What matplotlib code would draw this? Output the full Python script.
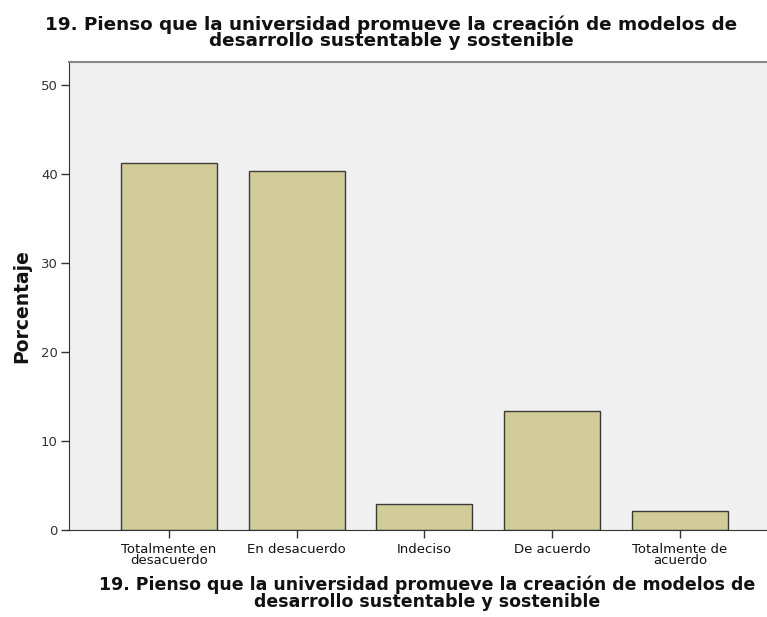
import matplotlib.pyplot as plt
import numpy as np

categorias = ['Totalmente en\ndesacuerdo', 'En desacuerdo', 'Indeciso',
              'De acuerdo', 'Totalmente de\nacuerdo']
porcentajes = [41.2, 40.4, 2.9, 13.4, 2.1]
titulo = '19. Pienso que la universidad promueve la creación de modelos de\ndesarrollo sustentable y sostenible'

plt.rcParams['font.family'] = ['DejaVu Sans']

fig = plt.figure(figsize=(7.67, 6.17), dpi=100)
ax = fig.add_axes([0.09, 0.141, 0.91, 0.7585])
ax.set_facecolor('#f0f0f0')

x = np.arange(len(categorias))
ax.bar(x, porcentajes, width=0.75, color='#d2cd98', edgecolor='#3a3a3a', linewidth=1.0, zorder=2)

ax.set_xlim(-0.78, 4.68)
ax.set_ylim(0, 52.6)
ax.set_yticks([0, 10, 20, 30, 40, 50])
ax.set_xticks(x)
ax.set_xticklabels(categorias, fontsize=9.5, linespacing=0.85, color='#222222')
ax.tick_params(axis='y', labelsize=9.5, length=6, width=1, colors='#333333', labelcolor='#333333', pad=2)
ax.tick_params(axis='x', length=6, width=1, colors='#333333', labelcolor='#111111', pad=3)

ax.spines['right'].set_visible(False)
ax.spines['top'].set_color('#888888')
ax.spines['top'].set_linewidth(1.5)
ax.spines['left'].set_color('#333333')
ax.spines['bottom'].set_color('#333333')

fig.text(22 / 767, 1 - 306 / 617, 'Porcentaje', rotation=90, ha='center', va='center',
         fontsize=13.5, fontweight='bold', color='#111111')

fig.text(391 / 767, 1 - 15 / 617, titulo, ha='center', va='top', fontsize=13.2, fontweight='bold',
         linespacing=0.88, color='#111111')
fig.text(427 / 767, 1 - 576 / 617, titulo, ha='center', va='top', fontsize=12.5, fontweight='bold',
         linespacing=0.88, color='#111111')

fig.savefig('out.png', dpi=100)
